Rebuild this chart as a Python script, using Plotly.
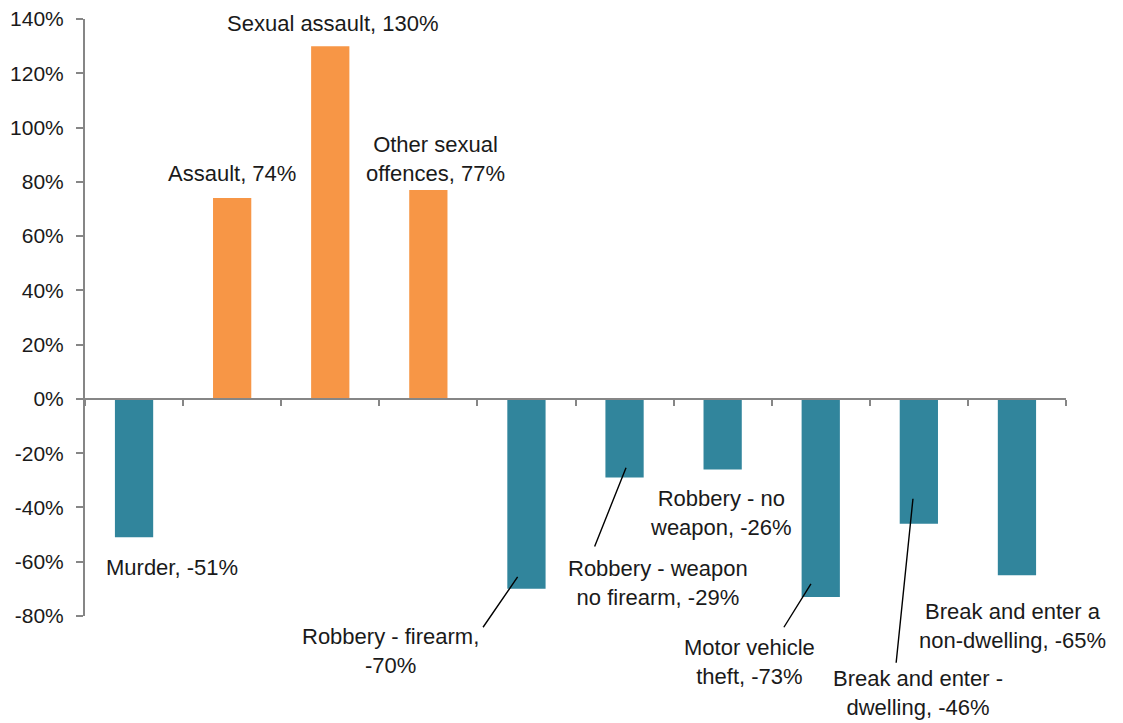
import plotly.graph_objects as go

# Change in recorded offences, by offence type
categories = [
    "Murder", "Assault", "Sexual assault", "Other sexual offences",
    "Robbery - firearm", "Robbery - weapon no firearm", "Robbery - no weapon",
    "Motor vehicle theft", "Break and enter - dwelling",
    "Break and enter a non-dwelling",
]
changes = [-51, 74, 130, 77, -70, -29, -26, -73, -46, -65]
y_ticks = [-80, -60, -40, -20, 0, 20, 40, 60, 80, 100, 120, 140]

# label text as broken onto lines in the original
label_names = [
    "Murder", "Assault", "Sexual assault", "Other sexual<br>offences",
    "Robbery - firearm,<br>", "Robbery - weapon<br>no firearm",
    "Robbery - no<br>weapon", "Motor vehicle<br>theft",
    "Break and enter -<br>dwelling", "Break and enter a<br>non-dwelling",
]

# label placement: (dx from bar centre in categories, y in %)
label_pos = [
    (0.39, -62), (0.0, 83), (0.03, 138.5), (0.07, 88.5),
    (-1.39, -93), (0.34, -68), (-0.02, -42),
    (-0.73, -97), (-0.01, -108.3), (-0.05, -83.6),
]
# leader lines: index -> (tip dx, tip y, tail dx, tail y)
leaders = {
    4: (-0.09, -65.6, -0.453, -84.7),
    5: (0.015, -25.4, -0.311, -54.9),
    7: (-0.10, -68.2, -0.385, -84.7),
    8: (-0.06, -36.8, -0.233, -97.8),
}

ORANGE = "#F79646"
TEAL = "#31859C"
AXIS = "#868686"
FONT = "Liberation Sans, Arial, sans-serif"

ymin, ymax = y_ticks[0], y_ticks[-1]


def ydom(v):
    # % value -> fraction of the y axis, so labels below -80% still show
    return (v - ymin) / (ymax - ymin)


x = list(range(len(categories)))
colors = [ORANGE if v > 0 else TEAL for v in changes]

fig = go.Figure()
fig.add_trace(go.Bar(
    x=x, y=changes, marker_color=colors, marker_line_width=0,
    hovertext=categories, showlegend=False,
))

annotations = []
for i, (name, v) in enumerate(zip(label_names, changes)):
    sep = "" if name.endswith("<br>") else ", "
    dx, ly = label_pos[i]
    annotations.append(dict(
        x=i + dx, y=ydom(ly), xref="x", yref="y domain",
        text=f"{name}{sep}{v}%",
        showarrow=False, xanchor="center", yanchor="middle",
    ))
for i, (tx, ty, sx, sy) in leaders.items():
    annotations.append(dict(
        x=i + tx, y=ydom(ty), xref="x", yref="y domain",
        ax=i + sx, ay=ydom(sy), axref="x", ayref="y domain",
        text="", showarrow=True, arrowhead=0, arrowwidth=1.4,
        arrowcolor="black", standoff=0, startstandoff=0,
    ))

fig.update_layout(
    width=1123, height=723,
    margin=dict(l=77, r=65, t=11, b=115),
    paper_bgcolor="white", plot_bgcolor="white",
    font=dict(family=FONT, size=22, color="#1a1a1a"),
    bargap=0.61,
    annotations=annotations,
    xaxis=dict(
        range=[-0.5, len(categories) - 0.5],
        anchor="free", position=ydom(0),
        showline=True, linecolor=AXIS, linewidth=2,
        ticks="outside", ticklen=6, tickcolor=AXIS, tickwidth=1.5,
        tick0=-0.5, dtick=1, showticklabels=False,
        showgrid=False, zeroline=False, automargin=False,
    ),
    yaxis=dict(
        range=[ymin, ymax],
        tickvals=y_ticks, ticktext=[f"{v}%" for v in y_ticks],
        tickfont=dict(size=21), ticklabeloverflow="allow",
        showline=True, linecolor=AXIS, linewidth=2,
        ticks="outside", ticklen=7, tickcolor=AXIS, tickwidth=1.5,
        ticklabelstandoff=8,
        showgrid=False, zeroline=False, automargin=False,
    ),
)

fig.write_html("out.html")
